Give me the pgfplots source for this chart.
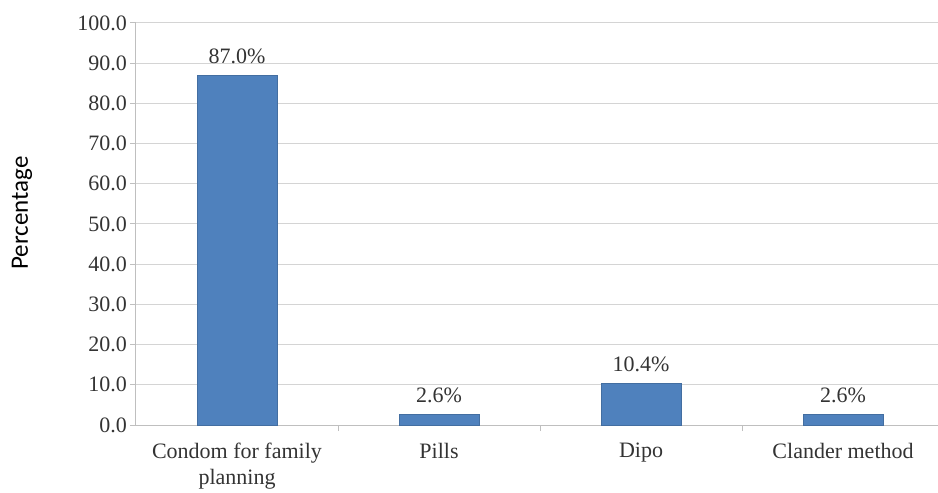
\documentclass[border=0pt]{standalone}
\usepackage{fontspec}
\setmainfont{Liberation Serif}
\newfontfamily\calfont{Carlito}
\usepackage{pgfplots}
\pgfplotsset{compat=1.18}
\definecolor{barblue}{HTML}{4F81BD}
\definecolor{gridgray}{HTML}{D4D4D4}
\definecolor{axisgray}{HTML}{BFBFBF}
\definecolor{txt}{HTML}{333333}
\begin{document}
\begin{tikzpicture}
\begin{axis}[
  name=ax,
  scale only axis,
  width=802pt, height=402pt,
  xmin=-0.5, xmax=3.47,
  ymin=0, ymax=100,
  ybar, bar width=80pt,
  axis lines=left,
  axis line style={-, draw=axisgray, line width=1pt},
  ymajorgrids,
  grid style={draw=gridgray, line width=1pt},
  ytick={0,10,...,100},
  xtick={0,1,2,3},
  xticklabels={{Condom for family\\planning},{Pills},{Dipo},{Clander method}},
  xtick style={draw=none},
  extra x ticks={0.5,1.5,2.5},
  extra x tick labels={},
  extra x tick style={xtick style={draw=axisgray, line width=1pt}, grid=none},
  ytick style={draw=axisgray, line width=1pt},
  major tick length=6pt,
  tick align=outside,
  tick pos=lower,
  /pgf/number format/assume math mode=true,
  yticklabel={\pgfmathprintnumber[fixed,fixed zerofill,precision=1]{\tick}},
  yticklabel style={font=\fontsize{22}{26}\selectfont, text=txt, inner sep=0pt, xshift=-3pt},
  xticklabel style={font=\fontsize{22}{26}\selectfont, text=txt, align=center, inner sep=0pt, yshift=-12pt},
  ylabel={Percentage},
  ylabel style={font=\calfont\fontsize{25}{30}\selectfont, text=black, at={(axis description cs:-0.142,0.527)}, anchor=center, inner sep=0pt},
  nodes near coords={\pgfmathprintnumber[fixed,fixed zerofill,precision=1]{\pgfplotspointmeta}\%},
  nodes near coords style={font=\fontsize{22}{26}\selectfont, text=txt, anchor=base, inner sep=0pt, yshift=12pt},
]
\addplot[fill=barblue, draw=barblue!85!black, line width=0.4pt] coordinates {(0,87.0) (1,2.6) (2,10.4) (3,2.6)};
\end{axis}
\pgfresetboundingbox
\path[use as bounding box] ([xshift=-136pt,yshift=-68pt]ax.south west) rectangle ([xshift=802pt,yshift=425pt]ax.south west);
\end{tikzpicture}
\end{document}
